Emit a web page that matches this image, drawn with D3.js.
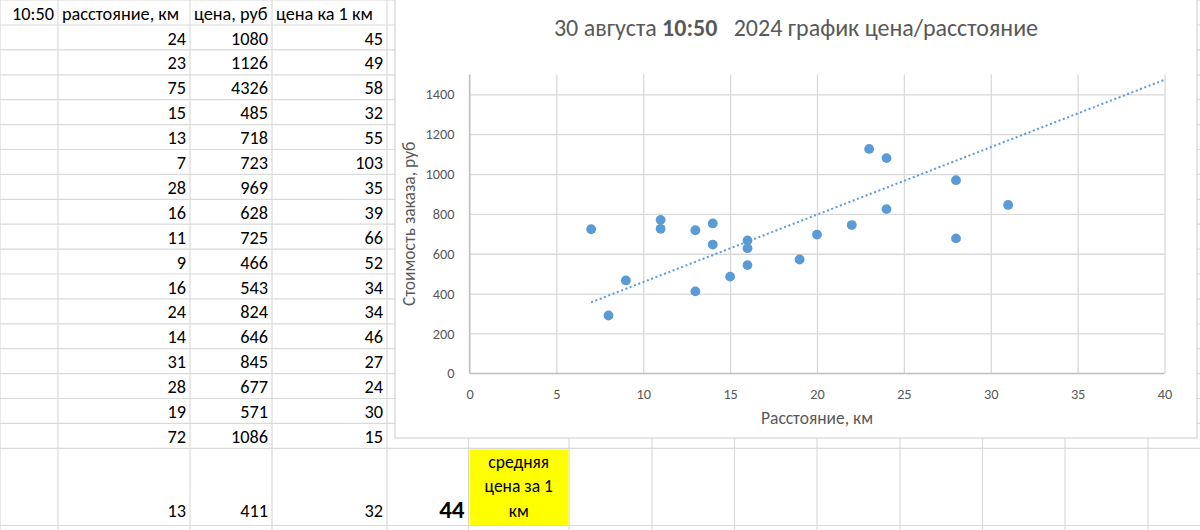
<!DOCTYPE html>
<html>
<head>
<meta charset="utf-8">
<script src="https://cdn.jsdelivr.net/npm/d3@7"></script>
<style>
  body { margin: 0; background: #fff; }
  svg text { font-family: Carlito, "Liberation Sans Narrow", "Liberation Sans", sans-serif; }
</style>
</head>
<body>
<div id="sheet"></div>
<script>
// table rows visible on the sheet
var headers = ["10:50", "расстояние, км", "цена, руб", "цена ка 1 км"];
var tableDistance = [24, 23, 75, 15, 13, 7, 28, 16, 11, 9, 16, 24, 14, 31, 28, 19, 72, 13];
var tablePrice = [1080, 1126, 4326, 485, 718, 723, 969, 628, 725, 466, 543, 824, 646, 845, 677, 571, 1086, 411];
var tablePerKm = [45, 49, 58, 32, 55, 103, 35, 39, 66, 52, 34, 34, 46, 27, 24, 30, 15, 32];
// rows scrolled out above the table, only seen in the chart
var hiddenDistance = [8, 11, 14, 16, 20, 22];
var hiddenPrice = [290, 770, 752, 667, 696, 744];
var averagePerKm = 44;
var averageLabel = ["средняя", "цена за 1", "км"];

var xTicks = [0, 5, 10, 15, 20, 25, 30, 35, 40];
var yTicks = [0, 200, 400, 600, 800, 1000, 1200, 1400];

var W = 1200, H = 530;

var svg = d3.select("#sheet").append("svg")
    .attr("width", W)
    .attr("height", H);

// sheet grid
var colEdges = [0, 58, 190, 272, 387, 468.5, 569, 652, 734.5, 817, 900, 982.5, 1065, 1148, 1230];
var rowH = 24.9;
var rowEdges = [0, 25];
tableDistance.slice(0, -1).forEach(function(d, i) { rowEdges.push(25 + (i + 1) * rowH); });
rowEdges.push(525.5, 551);
var lastRow = rowEdges.length - 3; // tall row with the last record

var grid = svg.append("g").attr("stroke", "#dadada").attr("stroke-width", 1.2);
colEdges.forEach(function(x) {
  grid.append("line").attr("x1", x).attr("x2", x).attr("y1", 0).attr("y2", H);
});
rowEdges.forEach(function(y) {
  grid.append("line").attr("x1", 0).attr("x2", W).attr("y1", y).attr("y2", y);
});

// yellow cell
svg.append("rect")
    .attr("x", colEdges[5] + 1).attr("y", rowEdges[lastRow] + 1)
    .attr("width", colEdges[6] - colEdges[5] - 1.5)
    .attr("height", rowEdges[lastRow + 1] - rowEdges[lastRow] - 1.5)
    .attr("fill", "#ffff00");

var cells = svg.append("g").attr("font-size", 18.3).attr("fill", "#000");

// header
cells.append("text").attr("x", colEdges[1] - 4).attr("y", 19.5).attr("text-anchor", "end").text(headers[0]);
headers.slice(1).forEach(function(h, i) {
  cells.append("text").attr("x", colEdges[i + 1] + 4).attr("y", 19.5).text(h);
});

// rows
tableDistance.forEach(function(d, i) {
  var base = i === tableDistance.length - 1 ? rowEdges[i + 2] - 8.5 : rowEdges[i + 1] + 19.5;
  [d, tablePrice[i], tablePerKm[i]].forEach(function(v, j) {
    cells.append("text")
        .attr("x", colEdges[j + 2] - 4)
        .attr("y", base)
        .attr("text-anchor", "end")
        .text(v);
  });
});

// average
svg.append("text")
    .attr("x", colEdges[5] - 4)
    .attr("y", rowEdges[lastRow + 1] - 8)
    .attr("text-anchor", "end")
    .attr("font-size", 25)
    .attr("font-weight", "bold")
    .text(averagePerKm);

svg.append("g").selectAll("text")
  .data(averageLabel)
  .join("text")
    .attr("x", (colEdges[5] + colEdges[6]) / 2)
    .attr("y", function(d, i) { return rowEdges[lastRow] + 19.5 + i * 24.5; })
    .attr("text-anchor", "middle")
    .attr("font-size", 17.5)
    .text(function(d) { return d; });

// chart box
var box = {left: 395, top: -5, right: 1197, bottom: 438};
svg.append("rect")
    .attr("x", box.left).attr("y", box.top)
    .attr("width", box.right - box.left).attr("height", box.bottom - box.top)
    .attr("fill", "#fff")
    .attr("stroke", "#d4d4d4")
    .attr("stroke-width", 1.2);

var plot = {left: 469.5, right: 1164.5, top: 74.4, bottom: 373.3};

var x = d3.scaleLinear().domain([0, 40]).range([plot.left, plot.right]);
var y = d3.scaleLinear().domain([0, 1500]).range([plot.bottom, plot.top]);

// chart data = table rows + hidden rows
var distance = hiddenDistance.concat(tableDistance);
var price = hiddenPrice.concat(tablePrice);
var points = distance.map(function(d, i) { return {x: d, y: price[i]}; });

var chart = svg.append("g");

// gridlines / axes
var yAxis = d3.axisLeft(y).tickValues(yTicks).tickFormat(d3.format("d"))
    .tickSize(-(plot.right - plot.left)).tickPadding(15);
var xAxis = d3.axisBottom(x).tickValues(xTicks)
    .tickSize(-(plot.bottom - plot.top)).tickPadding(16);

chart.append("g")
    .attr("transform", "translate(" + plot.left + ",0)")
    .call(yAxis)
    .call(function(g) { g.select(".domain").remove(); });

chart.append("g")
    .attr("transform", "translate(0," + plot.bottom + ")")
    .call(xAxis)
    .call(function(g) { g.select(".domain").remove(); });

chart.selectAll(".tick line").attr("stroke", "#d9d9d9").attr("stroke-width", 1.3);
chart.selectAll(".tick text")
    .attr("fill", "#595959")
    .attr("font-size", 14.3)
    .attr("font-family", "Carlito, 'Liberation Sans Narrow', 'Liberation Sans', sans-serif");

// axis lines
chart.append("line")
    .attr("x1", plot.left).attr("x2", plot.right)
    .attr("y1", plot.bottom).attr("y2", plot.bottom)
    .attr("stroke", "#bfbfbf").attr("stroke-width", 1.3);
chart.append("line")
    .attr("x1", plot.left).attr("x2", plot.left)
    .attr("y1", plot.top).attr("y2", plot.bottom)
    .attr("stroke", "#bfbfbf").attr("stroke-width", 1.3);

svg.append("clipPath").attr("id", "plotClip")
  .append("rect")
    .attr("x", plot.left).attr("y", plot.top)
    .attr("width", plot.right - plot.left).attr("height", plot.bottom - plot.top);

var inner = chart.append("g").attr("clip-path", "url(#plotClip)");

// linear trendline (least squares over all chart rows)
var mx = d3.mean(points, function(p) { return p.x; });
var my = d3.mean(points, function(p) { return p.y; });
var sxy = d3.sum(points, function(p) { return (p.x - mx) * (p.y - my); });
var sxx = d3.sum(points, function(p) { return (p.x - mx) * (p.x - mx); });
var slope = sxy / sxx, intercept = my - slope * mx;
var xExt = d3.extent(points, function(p) { return p.x; });

inner.append("line")
    .attr("x1", x(xExt[0])).attr("y1", y(intercept + slope * xExt[0]))
    .attr("x2", x(xExt[1])).attr("y2", y(intercept + slope * xExt[1]))
    .attr("stroke", "#5b9bd5")
    .attr("stroke-width", 2)
    .attr("stroke-dasharray", "2,2.6");

inner.selectAll("circle")
  .data(points)
  .join("circle")
    .attr("cx", function(d) { return x(d.x); })
    .attr("cy", function(d) { return y(d.y); })
    .attr("r", 4.9)
    .attr("fill", "#5b9bd5");

// titles
var title = svg.append("text")
    .attr("x", (box.left + box.right) / 2)
    .attr("y", 35.5)
    .attr("text-anchor", "middle")
    .attr("font-size", 24)
    .attr("fill", "#595959");
title.append("tspan").text("30 августа ");
title.append("tspan").attr("font-weight", "bold").text("10:50");
title.append("tspan").attr("xml:space", "preserve").text("   2024 график цена/расстояние");

svg.append("text")
    .attr("x", (plot.left + plot.right) / 2)
    .attr("y", 424)
    .attr("text-anchor", "middle")
    .attr("font-size", 17.5)
    .attr("fill", "#595959")
    .text("Расстояние, км");

svg.append("text")
    .attr("transform", "translate(414.5," + (plot.top + plot.bottom) / 2 + ") rotate(-90)")
    .attr("text-anchor", "middle")
    .attr("font-size", 17.5)
    .attr("fill", "#595959")
    .text("Стоимость заказа, руб");
</script>
</body>
</html>
